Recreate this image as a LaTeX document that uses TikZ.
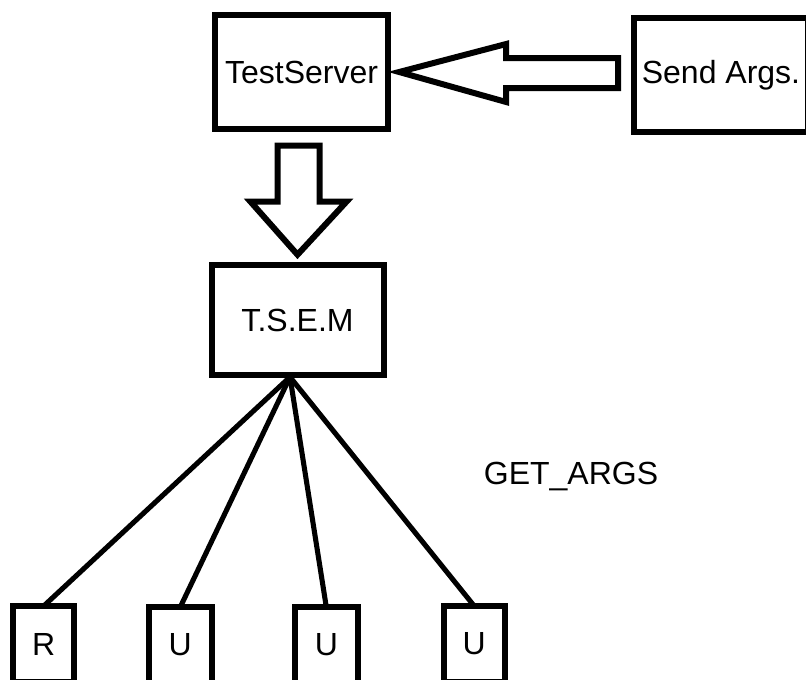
\documentclass[tikz,border=0pt]{standalone}
\usepackage{fontspec}
\setmainfont{Liberation Sans}
\usetikzlibrary{calc}

\begin{document}
\begin{tikzpicture}[x=0.75pt,y=-0.75pt,
                    line width=4.5pt,
                    font=\fontsize{24}{28}\selectfont,
                    box/.style={draw,outer sep=0pt,inner sep=1pt,align=center,
                                minimum width=130pt,minimum height=86pt},
                    leaf/.style={draw,outer sep=0pt,inner sep=1pt,
                                 minimum width=47pt,minimum height=57pt},
                    link/.style={line width=3.8pt},
                    bigarrow/.style={draw,fill=white,line join=miter}]
  \useasboundingbox (0,0) rectangle (806,679);
  \clip (0,0) rectangle (806,679);
  \node[box] (server) at (301.5,72) {TestServer};
  \node[box] (sender) at (721,75) {Send Args.};
  \node[box,minimum width=129pt,minimum height=83pt] (tsem) at (297.5,320) {T.S.E.M};
  % block arrows are outlines started at the tip; the miter join pushes
  % the sharp point past the path, so the tips start a little off the
  % box borders they point at.
  \draw[bigarrow] ($(server.east)+(11,0)$) -- ++(107,-28) -- ++(0,14)
    -- ++(112,0) -- ++(0,30) -- ++(-112,0) -- ++(0,14) -- cycle;
  \draw[bigarrow] ($(tsem.north)+(0,-10)$) -- ++(-47,-53) -- ++(27,0)
    -- ++(0,-56) -- ++(42,0) -- ++(0,56) -- ++(27,0) -- cycle;
  \node[leaf,minimum width=45.5pt] (r) at (43.7,644) {R};
  \node[leaf] (u1) at (180.3,645) {U};
  \node[leaf] (u2) at (326.3,645) {U};
  \node[leaf,minimum width=45.75pt] (u3) at (474.2,644) {U};
  \coordinate (fork) at (290,377);
  \foreach \leafname in {r,u1,u2,u3}
    \draw[link] (fork) -- (\leafname.north);
  \node (getargs) at (571,476) {GET\_ARGS};
\end{tikzpicture}
\end{document}
